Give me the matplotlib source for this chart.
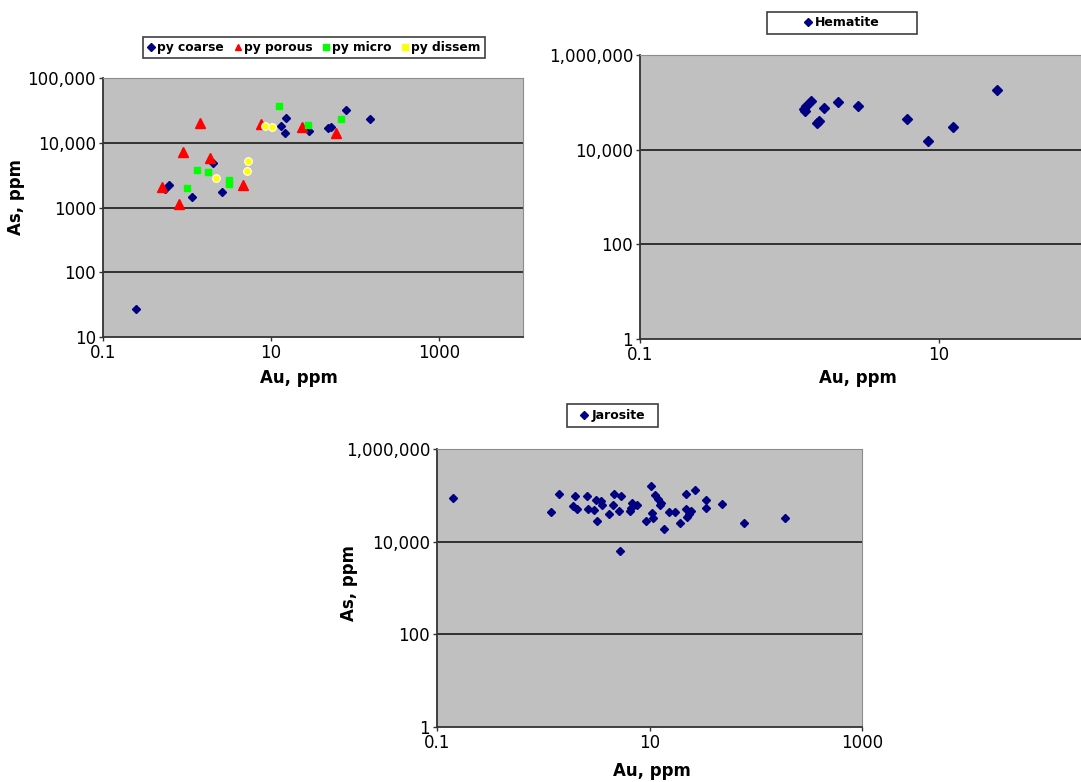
import matplotlib
matplotlib.use("Agg")
import matplotlib.pyplot as plt
from matplotlib.patches import Rectangle
from matplotlib.lines import Line2D
from matplotlib.ticker import FixedLocator, FixedFormatter, NullLocator

# --- pyrite data (Au ppm, As ppm) ---
coarse_au = [0.244, 0.61, 0.545, 1.14, 2.59, 2.04, 15.1, 13.2, 14.5, 28.1, 47.2, 51.8, 78.1, 150]
coarse_as = [26.8, 2225, 1910, 1437, 1755, 4815, 23870, 18340, 14000, 15030, 17070, 17690, 32060, 23270]

porous_au = [1.44, 0.89, 1.86, 0.51, 0.81, 4.63, 7.5, 23.2, 58.8]
porous_as = [20400, 7280, 5870, 2095, 1133, 2225, 19270, 17500, 14000]

micro_au = [12.6, 27.9, 68.7, 1.32, 1.76, 1.01, 3.13, 3.13]
micro_as = [36560, 18800, 23500, 3750, 3570, 2000, 2660, 2280]

dissem_au = [8.53, 10.2, 5.26, 5.12, 2.24]
dissem_as = [18150, 17330, 5170, 3700, 2855]

# --- hematite ---
hem_au = [1.25, 1.29, 1.40, 1.27, 1.53, 1.58, 1.70, 2.10, 2.89, 6.10, 8.48, 12.5, 24.4]
hem_as = [71600, 84300, 107700, 66000, 36100, 40600, 76400, 99200, 81700, 45400, 15000, 30300, 184000]

# --- jarosite ---
jar_au = [0.141, 1.18, 1.42, 1.97, 1.90, 2.09, 2.58, 2.65, 2.99, 3.18, 3.15, 3.52, 3.60,
          4.18, 4.57, 4.67, 5.11, 5.35, 5.31, 6.49, 6.89, 7.59, 6.73, 9.30, 10.4, 10.5,
          10.9, 11.2, 11.9, 12.5, 12.8, 13.7, 15.1, 17.5, 19.5, 22.2, 22.2, 23.5, 22.7,
          24.4, 26.7, 33.7, 33.7, 47.9, 77.6, 190]
jar_as = [87100, 43600, 106300, 94600, 57700, 51400, 94600, 51400, 47300, 27900, 77600,
          73900, 60700, 40200, 60700, 106300, 45100, 96100, 6240, 45100, 69200, 60700,
          53200, 27900, 157800, 42200, 33000, 99500, 81700, 60700, 69200, 19100, 43600,
          43600, 25800, 107900, 49800, 40200, 34000, 45100, 131500, 77600, 53200, 65900,
          25800, 32400]

NAVY = "#000080"
BG = "#C0C0C0"

fig = plt.figure(figsize=(10.81, 7.82), dpi=100)


def style_axes(ax, xlim, ylim, xticks, xlabels, yticks, ylabels, grid_vals):
    ax.set_xscale("log")
    ax.set_yscale("log")
    ax.set_xlim(*xlim)
    ax.set_ylim(*ylim)
    ax.set_facecolor(BG)
    ax.xaxis.set_major_locator(FixedLocator(xticks))
    ax.xaxis.set_major_formatter(FixedFormatter(xlabels))
    ax.yaxis.set_major_locator(FixedLocator(yticks))
    ax.yaxis.set_major_formatter(FixedFormatter(ylabels))
    ax.xaxis.set_minor_locator(NullLocator())
    ax.yaxis.set_minor_locator(NullLocator())
    ax.tick_params(axis="both", which="major", length=3, width=1, pad=2,
                   labelsize=12, color="#333333")
    for v in grid_vals:
        ax.axhline(v, color="#1a1a1a", lw=1.2, zorder=1)
    ax.spines["left"].set_color("#333333")
    ax.spines["bottom"].set_color("#333333")
    ax.spines["left"].set_linewidth(1.3)
    ax.spines["bottom"].set_linewidth(1.3)
    ax.spines["top"].set_color("#8c8c8c")
    ax.spines["right"].set_color("#8c8c8c")


def legend_box(x0, y0, w, h):
    fig.patches.append(Rectangle((x0, y0), w, h, transform=fig.transFigure,
                                 facecolor="white", edgecolor="#404040", lw=1.2))


# ---------------- top left: pyrite ----------------
ax1 = fig.add_axes([0.09528, 0.56905, 0.38853, 0.33120])
style_axes(ax1, (0.1, 10000), (10, 100000),
           [0.1, 10, 1000], ["0.1", "10", "1000"],
           [10, 100, 1000, 10000, 100000], ["10", "100", "1000", "10,000", "100,000"],
           [100, 1000, 10000])
ax1.plot(coarse_au, coarse_as, "D", color=NAVY, ms=4.3, mec=NAVY, zorder=3)
ax1.plot(porous_au, porous_as, "^", color="#FF0000", ms=7, mec="#FF0000", zorder=3)
ax1.plot(micro_au, micro_as, "s", color="#00FF00", ms=5, mec="#00FF00", zorder=3)
ax1.plot(dissem_au, dissem_as, "o", color="#FFFF00", ms=5.5, mec="white", mew=0.8, zorder=3)

legend_box(0.1323, 0.9258, 0.3164, 0.0269)
handles = [
    Line2D([], [], ls="", marker="D", color=NAVY, ms=4),
    Line2D([], [], ls="", marker="^", color="#FF0000", ms=5),
    Line2D([], [], ls="", marker="s", color="#00FF00", ms=4.5),
    Line2D([], [], ls="", marker="s", color="#FFFF00", ms=4.5),
]
fig.legend(handles, ["py coarse", "py porous", "py micro", "py dissem"],
           loc="center", bbox_to_anchor=(0.2905, 0.9393), ncol=4, frameon=False,
           handlelength=0.6, handletextpad=0.2, columnspacing=0.8,
           prop={"weight": "bold", "size": 8.8})
fig.text(0.0148, 0.748, "As, ppm", rotation=90, ha="center", va="center",
         fontsize=12, fontweight="bold")
fig.text(0.277, 0.5166, "Au, ppm", ha="center", va="center",
         fontsize=12, fontweight="bold")

# ---------------- top right: hematite ----------------
ax2 = fig.add_axes([0.59204, 0.56650, 0.41489, 0.36317])
style_axes(ax2, (0.1, 100), (1, 1000000),
           [0.1, 10], ["0.1", "10"],
           [1, 100, 10000, 1000000], ["1", "100", "10,000", "1,000,000"],
           [100, 10000])
ax2.plot(hem_au, hem_as, "D", color=NAVY, ms=4.8, mec=NAVY, zorder=3)
legend_box(0.7095, 0.9565, 0.1388, 0.0281)
fig.legend([Line2D([], [], ls="", marker="D", color=NAVY, ms=4.5)], ["Hematite"],
           loc="center", bbox_to_anchor=(0.7789, 0.9706), frameon=False,
           handlelength=0.6, handletextpad=0.2, prop={"weight": "bold", "size": 9})
fig.text(0.7937, 0.5166, "Au, ppm", ha="center", va="center",
         fontsize=12, fontweight="bold")

# ---------------- bottom: jarosite ----------------
ax3 = fig.add_axes([0.40426, 0.07033, 0.39315, 0.35550])
style_axes(ax3, (0.1, 1000), (1, 1000000),
           [0.1, 10, 1000], ["0.1", "10", "1000"],
           [1, 100, 10000, 1000000], ["1", "100", "10,000", "1,000,000"],
           [100, 10000])
ax3.plot(jar_au, jar_as, "D", color=NAVY, ms=4.4, mec=NAVY, zorder=3)
legend_box(0.5245, 0.4540, 0.0842, 0.0294)
fig.legend([Line2D([], [], ls="", marker="D", color=NAVY, ms=4.5)], ["Jarosite"],
           loc="center", bbox_to_anchor=(0.5666, 0.4687), frameon=False,
           handlelength=0.6, handletextpad=0.3, prop={"weight": "bold", "size": 9})
fig.text(0.3228, 0.2545, "As, ppm", rotation=90, ha="center", va="center",
         fontsize=12, fontweight="bold")
fig.text(0.6031, 0.0141, "Au, ppm", ha="center", va="center",
         fontsize=12, fontweight="bold")

fig.savefig("out.png", dpi=100)
